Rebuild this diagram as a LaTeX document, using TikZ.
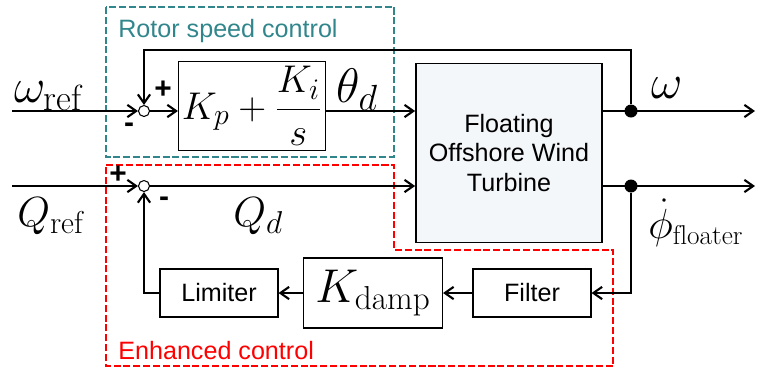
\documentclass[tikz,border=0pt]{standalone}
\usepackage{fix-cm}
\usepackage{amsmath}
\usepackage{fontspec}
\setsansfont{Liberation Sans}
\usetikzlibrary{arrows.meta}
\DeclareMathSizes{22}{22}{17}{12}
\DeclareMathSizes{24}{24}{18}{15.5}
\definecolor{rotorteal}{RGB}{49,134,139}
\definecolor{fowtfill}{RGB}{244,247,250}
\newcommand{\mathsz}{\fontsize{24}{28}\selectfont}
\newcommand{\txtsz}{\fontsize{14.3}{17}\selectfont\sffamily}

\begin{document}
\begin{tikzpicture}[x=0.02cm,y=-0.02cm,
        sig/.style={line width=1.2pt,-{Straight Barb[length=5pt,width=7pt]}},
        blk/.style={draw,line width=0.6pt,inner sep=2pt,font=\txtsz},
        sumpt/.style={circle,draw,fill=white,line width=0.6pt,minimum size=0.22cm,inner sep=0pt},
        tap/.style={circle,fill,minimum size=0.26cm,inner sep=0pt},
        sgn/.style={font=\fontsize{17}{17}\selectfont\sffamily\bfseries,inner sep=0pt},
        mlbl/.style={font=\mathsz,inner sep=0pt},
        zone/.style={line width=1.4pt,dash pattern=on 4pt off 1.6pt}]
    \useasboundingbox (0,0) rectangle (757,370);
    \draw[zone,rotorteal] (106,7) rectangle (394,157);
    \draw[zone,red] (106,165) -- (394,165) -- (394,250) -- (613,250) -- (613,366) -- (106,366) -- cycle;
    \node[anchor=base west,inner sep=0pt,font=\txtsz,text=rotorteal] (rotorlbl) at (118,37) {Rotor speed control};
    \node[anchor=base west,inner sep=0pt,font=\txtsz,text=red] (enhlbl) at (118,359) {Enhanced control};
    \node[sumpt] (sumW) at (144,111) {};
    \node[sumpt] (sumQ) at (144,186) {};
    \node[blk,minimum width=2.7cm,minimum height=1.78cm,font=\fontsize{22}{26}\selectfont] (pi) at (252,106) {$K_p+\dfrac{K_i}{s}$};
    \node[blk,line width=1pt,fill=fowtfill,minimum width=3.72cm,minimum height=3.58cm,align=center] (fowt) at (509,153) {Floating\\Offshore Wind\\Turbine};
    \node[blk,minimum width=2.36cm,minimum height=0.96cm] (filt) at (532,293) {Filter};
    \node[blk,minimum width=2.78cm,minimum height=1.4cm,font=\fontsize{27}{30}\selectfont] (kdamp) at (373,293) {$K_{\mathrm{damp}}$};
    \node[blk,minimum width=2.36cm,minimum height=0.96cm] (lim) at (219,293) {Limiter};
    \node[tap] (dotW) at (631,111) {};
    \node[tap] (dotQ) at (631,186) {};
    \coordinate (inW) at (12,111);
    \coordinate (inQ) at (12,186);
    \coordinate (outW) at (755,111);
    \coordinate (outQ) at (755,186);
    \coordinate (fbW) at (144,50);
    \draw[sig] (inW) -- (sumW);
    \draw[sig] (sumW) -- (sumW -| pi.west);
    \draw[sig] (pi.east |- sumW) -- (fowt.west |- sumW);
    \draw[sig] (fowt.east |- dotW) -- (outW);
    \draw[sig] (dotW) |- (fbW) -- (sumW);
    \draw[sig] (inQ) -- (sumQ);
    \draw[sig] (sumQ) -- (sumQ -| fowt.west);
    \draw[sig] (fowt.east |- dotQ) -- (outQ);
    \draw[sig] (dotQ) |- (filt);
    \draw[sig] (filt) -- (kdamp);
    \draw[sig] (kdamp) -- (lim);
    \draw[sig] (lim) -| (sumQ);
    \node[sgn] (plusW) at (163,90) {+};
    \node[sgn] (minusW) at (129,128) {-};
    \node[sgn] (plusQ) at (118,175) {+};
    \node[sgn] (minusQ) at (164,202) {-};
    \node[mlbl,anchor=base west,scale=1.15] (wref) at (14,102) {$\omega_{\mathrm{ref}}$};
    \node[mlbl,anchor=base west] (qref) at (17,226) {$Q_{\mathrm{ref}}$};
    \node[mlbl,anchor=base west,scale=1.15] (thd) at (336,102) {$\theta_d$};
    \node[mlbl,anchor=base west] (qd) at (233,226) {$Q_d$};
    \node[mlbl,anchor=base west,scale=1.15] (wout) at (651,98) {$\omega$};
    \node[mlbl,anchor=base west] (phiout) at (648,238) {$\dot{\phi}_{\scriptscriptstyle\mathrm{floater}}$};
\end{tikzpicture}
\end{document}
